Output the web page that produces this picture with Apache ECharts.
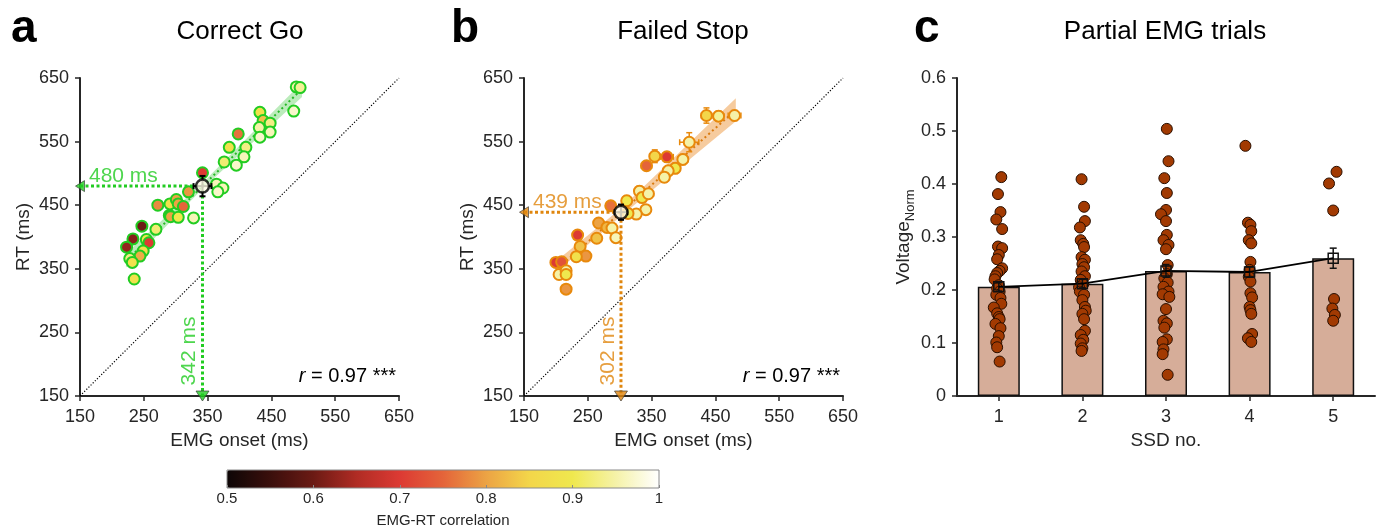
<!DOCTYPE html>
<html>
<head>
<meta charset="utf-8">
<script src="https://cdn.jsdelivr.net/npm/echarts@6/dist/echarts.min.js"></script>
<style>html,body{margin:0;padding:0;background:#fff}#chart{width:1384px;height:531px}</style>
</head>
<body>
<div id="chart"></div>
<script>
// ---------- shared axis ticks ----------
const msTicks = [150, 650];            // min / max of RT and EMG axes (interval 100)
const identityLine = [150, 650];
const corrRange = [0.5, 1];

// ---------- panel a : Correct Go ----------
const goEmg  = [489,495,485,432,437,431,448,448,432,398,410,384,407,376,395,342,364,374,366,320,272,291,301,304,312,290,292,304,328,269,247,233,254,258,223,249,244,228,232,235];
const goRt   = [636,635,598,596,583,572,579,565,557,562,541,541,526,518,513,501,483,477,471,471,450,452,459,452,448,434,432,431,430,412,417,397,396,391,384,378,370,366,360,334];
const goCorr = [0.95,0.94,0.97,0.88,0.83,0.95,0.93,0.96,0.97,0.76,0.93,0.88,0.96,0.92,0.97,0.70,0.96,0.96,0.97,0.79,0.78,0.88,0.80,0.80,0.75,0.65,0.80,0.90,0.96,0.92,0.60,0.62,0.90,0.70,0.63,0.88,0.81,0.93,0.88,0.88];
const goMean = [342, 480];
const goMeanErr = [14, 16];
const goFitX = [225, 495];
const goFitY = [365, 630];
const goBandX = [222, 342, 498];
const goBandLo = [352, 476, 620];
const goBandHi = [374, 485, 643];

// ---------- panel b : Failed Stop ----------
const fsEmg  = [480,455,436,409,355,374,342,399,387,376,370,331,335,345,311,341,326,313,286,267,280,288,294,264,234,238,247,232,200,209,205,216,216,216];
const fsRt   = [591,590,591,549,527,526,512,522,508,504,494,472,462,468,457,443,436,437,449,422,415,414,399,398,403,385,370,369,360,361,341,347,341,318];
const fsCorr = [0.95,0.94,0.85,0.95,0.85,0.70,0.75,0.95,0.90,0.95,0.95,0.95,0.90,0.95,0.90,0.95,0.95,0.90,0.76,0.80,0.82,0.95,0.96,0.83,0.70,0.83,0.79,0.88,0.70,0.73,0.95,0.95,0.90,0.79];
const fsEmgErr = [10,8,8,15,8,10,8,8,8,8,5,6,5,8,6,6,6,5,4,5,4,4,3,4,4,5,4,4,4,4,4,4,4,3];
const fsRtErr  = [8,8,12,15,10,8,5,8,8,8,8,8,5,6,8,6,6,5,4,5,4,4,3,4,6,5,4,4,4,4,4,4,4,3];
const fsMean = [302, 439];
const fsMeanErr = [10, 12];
const fsFitX = [205, 480];
const fsFitY = [352, 598];
const fsBandX = [200, 302, 482];
const fsBandLo = [344, 433, 582];
const fsBandHi = [362, 445, 618];

// ---------- panel c : Partial EMG trials ----------
const ssdCats  = [1, 2, 3, 4, 5];
const ssdMeans = [0.206, 0.212, 0.236, 0.234, 0.260];
const ssdSem   = [0.008, 0.008, 0.012, 0.010, 0.019];
const ssd1 = [0.413,0.381,0.347,0.333,0.315,0.282,0.279,0.266,0.258,0.241,0.236,0.232,0.226,0.220,0.209,0.203,0.197,0.191,0.185,0.174,0.167,0.156,0.149,0.145,0.136,0.128,0.113,0.101,0.092,0.065];
const ssd1Jit = [0.03,-0.01,0.02,-0.03,0.04,-0.01,0.04,0,-0.02,0.04,0.01,-0.02,-0.04,-0.05,0,-0.02,0.01,-0.03,0.02,0.03,-0.06,-0.02,0,0.01,-0.04,0.02,0,-0.03,-0.02,0.01];
const ssd2 = [0.409,0.357,0.330,0.318,0.294,0.287,0.281,0.262,0.257,0.249,0.243,0.235,0.226,0.219,0.211,0.205,0.197,0.191,0.181,0.168,0.161,0.155,0.145,0.123,0.115,0.106,0.099,0.090,0.085];
const ssd2Jit = [-0.01,0.02,0.03,-0.03,-0.02,0.01,0.02,-0.01,0.03,0,0.02,-0.01,0.03,-0.02,0.01,-0.04,-0.03,0.02,0,0.03,0.04,0,0.02,0.03,-0.02,0.01,-0.02,0,-0.01];
const ssd3 = [0.504,0.443,0.411,0.383,0.351,0.343,0.330,0.304,0.294,0.285,0.277,0.247,0.230,0.222,0.214,0.206,0.197,0.192,0.187,0.164,0.142,0.137,0.129,0.107,0.102,0.088,0.079,0.040];
const ssd3Jit = [0.01,0.03,-0.02,0.01,0,-0.06,0,0.01,-0.03,0.03,0,0.02,0.01,-0.02,0.02,-0.03,0.03,-0.04,0.04,0,-0.03,0.01,-0.02,0.01,-0.04,-0.03,-0.04,0.02];
const ssd4 = [0.472,0.327,0.323,0.311,0.294,0.288,0.253,0.238,0.225,0.216,0.194,0.186,0.168,0.162,0.155,0.117,0.109,0.102];
const ssd4Jit = [-0.05,-0.02,0.01,0.02,-0.01,0.02,0.01,0,-0.01,0.01,0.01,0.03,0,0.01,0.02,0.03,-0.02,0.02];
const ssd5 = [0.423,0.401,0.350,0.183,0.165,0.153,0.142];
const ssd5Jit = [0.04,-0.05,0,0.01,-0.01,0.02,0];

// ---------- colour map (EMG-RT correlation) ----------
const corrColors = ['#0d0606','#3a0f0c','#6b1a14','#b02c24','#dc3a33','#e4643a','#eca344','#f3d64a','#efe84e','#f5f2a8','#ffffff'];

// ---------- styles ----------
const FONT = 'Liberation Sans, Arial, Helvetica, sans-serif';
const INK = '#262626';
const GREEN = '#22cc22';
const ORANGE = '#e8890c';

function axis(extra) {
  return Object.assign({
    type: 'value',
    axisLine: {show: true, onZero: false, lineStyle: {color: INK, width: 2}},
    axisTick: {show: true, inside: false, length: 5, lineStyle: {color: INK, width: 1.5}},
    axisLabel: {color: INK, fontSize: 18, fontFamily: FONT, margin: 11},
    splitLine: {show: false},
    nameLocation: 'middle',
    nameTextStyle: {color: INK, fontSize: 19, fontFamily: FONT}
  }, extra);
}

function errorBars(color, capPx, lw) {
  return function (params, api) {
    const x = api.value(0), y = api.value(1), ex = api.value(2), ey = api.value(3);
    const st = {stroke: color, lineWidth: lw, fill: null};
    const ch = [];
    if (ex > 0) {
      const l = api.coord([x - ex, y]), r = api.coord([x + ex, y]);
      ch.push({type: 'line', shape: {x1: l[0], y1: l[1], x2: r[0], y2: r[1]}, style: st});
      ch.push({type: 'line', shape: {x1: l[0], y1: l[1] - capPx, x2: l[0], y2: l[1] + capPx}, style: st});
      ch.push({type: 'line', shape: {x1: r[0], y1: r[1] - capPx, x2: r[0], y2: r[1] + capPx}, style: st});
    }
    if (ey > 0) {
      const t = api.coord([x, y + ey]), b = api.coord([x, y - ey]);
      ch.push({type: 'line', shape: {x1: t[0], y1: t[1], x2: b[0], y2: b[1]}, style: st});
      ch.push({type: 'line', shape: {x1: t[0] - capPx, y1: t[1], x2: t[0] + capPx, y2: t[1]}, style: st});
      ch.push({type: 'line', shape: {x1: b[0] - capPx, y1: b[1], x2: b[0] + capPx, y2: b[1]}, style: st});
    }
    return {type: 'group', children: ch};
  };
}

function bandRender(xs, lo, hi, fill) {
  return function (params, api) {
    if (params.dataIndex !== 0) return {type: 'group', children: []};
    const pts = [];
    xs.forEach((x, i) => pts.push(api.coord([x, lo[i]])));
    for (let i = xs.length - 1; i >= 0; i--) pts.push(api.coord([xs[i], hi[i]]));
    return {type: 'polygon', shape: {points: pts}, style: {fill: fill}};
  };
}

function scatterPanel(idx, emg, rt, corr, edge) {
  return {
    type: 'scatter', xAxisIndex: idx, yAxisIndex: idx, z: 3,
    symbolSize: 11,
    itemStyle: {borderColor: edge, borderWidth: 2, opacity: 1},
    data: emg.map((v, i) => [v, rt[i], corr[i]])
  };
}

function annotation(idx, mean, color) {
  return [
    { // dotted guide: y-axis -> mean -> x-axis
      type: 'line', xAxisIndex: idx, yAxisIndex: idx, z: 4, symbol: 'none', silent: true,
      lineStyle: {color: color, width: 3, type: [3, 2.5]},
      data: [[msTicks[0], mean[1]], [mean[0], mean[1]], [mean[0], msTicks[0]]]
    },
    { // arrow heads with their value labels
      type: 'scatter', xAxisIndex: idx, yAxisIndex: idx, z: 5, symbol: 'triangle',
      itemStyle: {color: color, borderColor: '#333', borderWidth: 0.8},
      label: {show: true, color: color, fontSize: 21, fontFamily: FONT, position: 'inside'},
      data: [
        {value: [msTicks[0], mean[1]], symbolSize: [11, 9], symbolRotate: 90,
         label: {formatter: mean[1] + ' ms', align: 'left', verticalAlign: 'middle', offset: [9, -10]}},
        {value: [mean[0], msTicks[0]], symbolSize: [13, 10], symbolRotate: 180,
         label: {formatter: mean[0] + ' ms', rotate: 90, align: 'center', verticalAlign: 'middle', offset: [45, -13]}}
      ]
    }
  ];
}

function meanPoint(idx, mean, err) {
  return [
    {type: 'custom', xAxisIndex: idx, yAxisIndex: idx, z: 6, silent: true,
     renderItem: errorBars('#000', 3, 2), data: [[mean[0], mean[1], err[0], err[1]]]},
    {type: 'scatter', xAxisIndex: idx, yAxisIndex: idx, z: 7, symbolSize: 13,
     itemStyle: {color: '#fffbe6', borderColor: '#000', borderWidth: 2.5},
     data: [[mean[0], mean[1]]]}
  ];
}

function commonPanel(idx, fitX, fitY, bx, blo, bhi, bandFill, fitColor) {
  return [
    {type: 'line', xAxisIndex: idx, yAxisIndex: idx, z: 1, symbol: 'none', silent: true,
     lineStyle: {color: '#000', width: 1.2, type: [1.2, 1.8]},
     data: [[identityLine[0], identityLine[0]], [identityLine[1], identityLine[1]]]},
    {type: 'custom', xAxisIndex: idx, yAxisIndex: idx, z: 1, silent: true,
     renderItem: bandRender(bx, blo, bhi, bandFill), data: bx.map((x, i) => [x, blo[i], bhi[i]])},
    {type: 'line', xAxisIndex: idx, yAxisIndex: idx, z: 2, symbol: 'none', silent: true,
     lineStyle: {color: fitColor, width: 2, type: [2, 3]},
     data: fitX.map((x, i) => [x, fitY[i]])}
  ];
}

const series = [];
series.push(scatterPanel(0, goEmg, goRt, goCorr, GREEN));   // index 0
series.push(scatterPanel(1, fsEmg, fsRt, fsCorr, ORANGE));  // index 1
series.push(...commonPanel(0, goFitX, goFitY, goBandX, goBandLo, goBandHi, 'rgba(60,200,60,0.35)', '#28b828'));
series.push(...commonPanel(1, fsFitX, fsFitY, fsBandX, fsBandLo, fsBandHi, 'rgba(236,140,40,0.45)', '#d97a10'));
series.push({type: 'custom', xAxisIndex: 1, yAxisIndex: 1, z: 2, silent: true,
  renderItem: errorBars(ORANGE, 3, 1.5),
  data: fsEmg.map((v, i) => [v, fsRt[i], fsEmgErr[i], fsRtErr[i]])});
series.push(...annotation(0, goMean, GREEN));
series.push(...annotation(1, fsMean, '#e0860e'));
series.push(...meanPoint(0, goMean, goMeanErr));
series.push(...meanPoint(1, fsMean, fsMeanErr));

// panel c
series.push({type: 'bar', xAxisIndex: 2, yAxisIndex: 2, z: 2, barWidth: 42, silent: true,
  itemStyle: {color: '#d6ad99', borderColor: '#111', borderWidth: 1.5},
  data: ssdCats.map((c, i) => [c, ssdMeans[i]])});
const ssdAll = [[ssd1, ssd1Jit], [ssd2, ssd2Jit], [ssd3, ssd3Jit], [ssd4, ssd4Jit], [ssd5, ssd5Jit]];
const ssdPts = [];
ssdAll.forEach((pair, ci) => pair[0].forEach((v, j) => ssdPts.push([ssdCats[ci] + pair[1][j], v])));
series.push({type: 'scatter', xAxisIndex: 2, yAxisIndex: 2, z: 3, symbolSize: 11, silent: true,
  itemStyle: {color: '#a23a02', borderColor: '#2a0f00', borderWidth: 1, opacity: 1},
  data: ssdPts});
series.push({type: 'custom', xAxisIndex: 2, yAxisIndex: 2, z: 4, silent: true,
  renderItem: errorBars('#111', 3.5, 1.5),
  data: ssdCats.map((c, i) => [c, ssdMeans[i], 0, ssdSem[i]])});
series.push({type: 'line', xAxisIndex: 2, yAxisIndex: 2, z: 5, silent: true,
  symbol: 'rect', symbolSize: 10,
  lineStyle: {color: '#000', width: 1.8},
  itemStyle: {color: 'rgba(0,0,0,0)', borderColor: '#111', borderWidth: 1.5},
  data: ssdCats.map((c, i) => [c, ssdMeans[i]])});
// colour-bar axis holder
series.push({type: 'scatter', xAxisIndex: 3, yAxisIndex: 3, data: []});

const option = {
  animation: false,
  backgroundColor: '#fff',
  textStyle: {fontFamily: FONT},
  grid: [
    {left: 80, top: 78, width: 319, height: 318},
    {left: 524, top: 78, width: 319, height: 318},
    {left: 957, top: 78, width: 418, height: 318},
    {left: 227, top: 470, width: 432, height: 18, show: true, borderColor: '#8a8a8a', borderWidth: 1,
     backgroundColor: 'transparent', z: 10}
  ],
  xAxis: [
    axis({gridIndex: 0, min: msTicks[0], max: msTicks[1], interval: 100, name: 'EMG onset (ms)', nameGap: 33,
      axisLabel: {color: INK, fontSize: 18, fontFamily: FONT, margin: 12}}),
    axis({gridIndex: 1, min: msTicks[0], max: msTicks[1], interval: 100, name: 'EMG onset (ms)', nameGap: 33,
      axisLabel: {color: INK, fontSize: 18, fontFamily: FONT, margin: 12}}),
    axis({gridIndex: 2, min: 0.5, max: 5.5, name: 'SSD no.', nameGap: 33,
      axisLabel: {customValues: ssdCats, color: INK, fontSize: 18, fontFamily: FONT, margin: 12},
      axisTick: {customValues: ssdCats, show: true, length: 5, lineStyle: {color: INK, width: 1.5}}}),
    axis({gridIndex: 3, min: corrRange[0], max: corrRange[1], interval: 0.1, z: 11,
      axisLine: {show: false},
      axisTick: {show: true, inside: true, length: 3, lineStyle: {color: '#888', width: 1}},
      axisLabel: {color: INK, fontSize: 15, fontFamily: FONT, margin: 3},
      name: 'EMG-RT correlation', nameGap: 25, nameTextStyle: {color: INK, fontSize: 15, fontFamily: FONT}})
  ],
  yAxis: [
    axis({gridIndex: 0, min: msTicks[0], max: msTicks[1], interval: 100, name: 'RT (ms)', nameGap: 47, nameRotate: 90}),
    axis({gridIndex: 1, min: msTicks[0], max: msTicks[1], interval: 100, name: 'RT (ms)', nameGap: 47, nameRotate: 90}),
    axis({gridIndex: 2, min: 0, max: 0.6, interval: 0.1, nameGap: 39, nameRotate: 90,
      name: '{a|Voltage}{b|Norm}',
      nameTextStyle: {rich: {
        a: {fontSize: 19, color: INK, fontFamily: FONT, lineHeight: 26},
        b: {fontSize: 13, color: INK, fontFamily: FONT, verticalAlign: 'bottom'}
      }}}),
    {gridIndex: 3, type: 'value', min: 0, max: 1, show: false}
  ],
  visualMap: {
    type: 'continuous', min: corrRange[0], max: corrRange[1], dimension: 2,
    seriesIndex: [0, 1], orient: 'horizontal', calculable: false, hoverLink: false,
    left: 227, top: 470, itemWidth: 18, itemHeight: 432, padding: 0, text: null,
    inRange: {color: corrColors}
  },
  graphic: [
    {type: 'text', x: 11, y: 6, style: {text: 'a', fontSize: 46, fontWeight: 'bold', fontFamily: FONT, fill: '#000'}},
    {type: 'text', x: 451, y: 6, style: {text: 'b', fontSize: 46, fontWeight: 'bold', fontFamily: FONT, fill: '#000'}},
    {type: 'text', x: 914, y: 6, style: {text: 'c', fontSize: 46, fontWeight: 'bold', fontFamily: FONT, fill: '#000'}},
    {type: 'text', x: 240, y: 32, style: {text: 'Correct Go', fontSize: 26, fontFamily: FONT, fill: '#000', align: 'center', verticalAlign: 'middle'}},
    {type: 'text', x: 683, y: 32, style: {text: 'Failed Stop', fontSize: 26, fontFamily: FONT, fill: '#000', align: 'center', verticalAlign: 'middle'}},
    {type: 'text', x: 1165, y: 32, style: {text: 'Partial EMG trials', fontSize: 26, fontFamily: FONT, fill: '#000', align: 'center', verticalAlign: 'middle'}},
    {type: 'text', x: 396, y: 376, style: {text: '{i|r} = 0.97 ***', fontSize: 20, fontFamily: FONT, fill: '#000', align: 'right', verticalAlign: 'middle',
      rich: {i: {fontStyle: 'italic', fontSize: 20, fontFamily: FONT, fill: '#000'}}}},
    {type: 'text', x: 840, y: 376, style: {text: '{i|r} = 0.97 ***', fontSize: 20, fontFamily: FONT, fill: '#000', align: 'right', verticalAlign: 'middle',
      rich: {i: {fontStyle: 'italic', fontSize: 20, fontFamily: FONT, fill: '#000'}}}}
  ],
  series: series
};

const chart = echarts.init(document.getElementById('chart'));
chart.setOption(option);
</script>
</body>
</html>
